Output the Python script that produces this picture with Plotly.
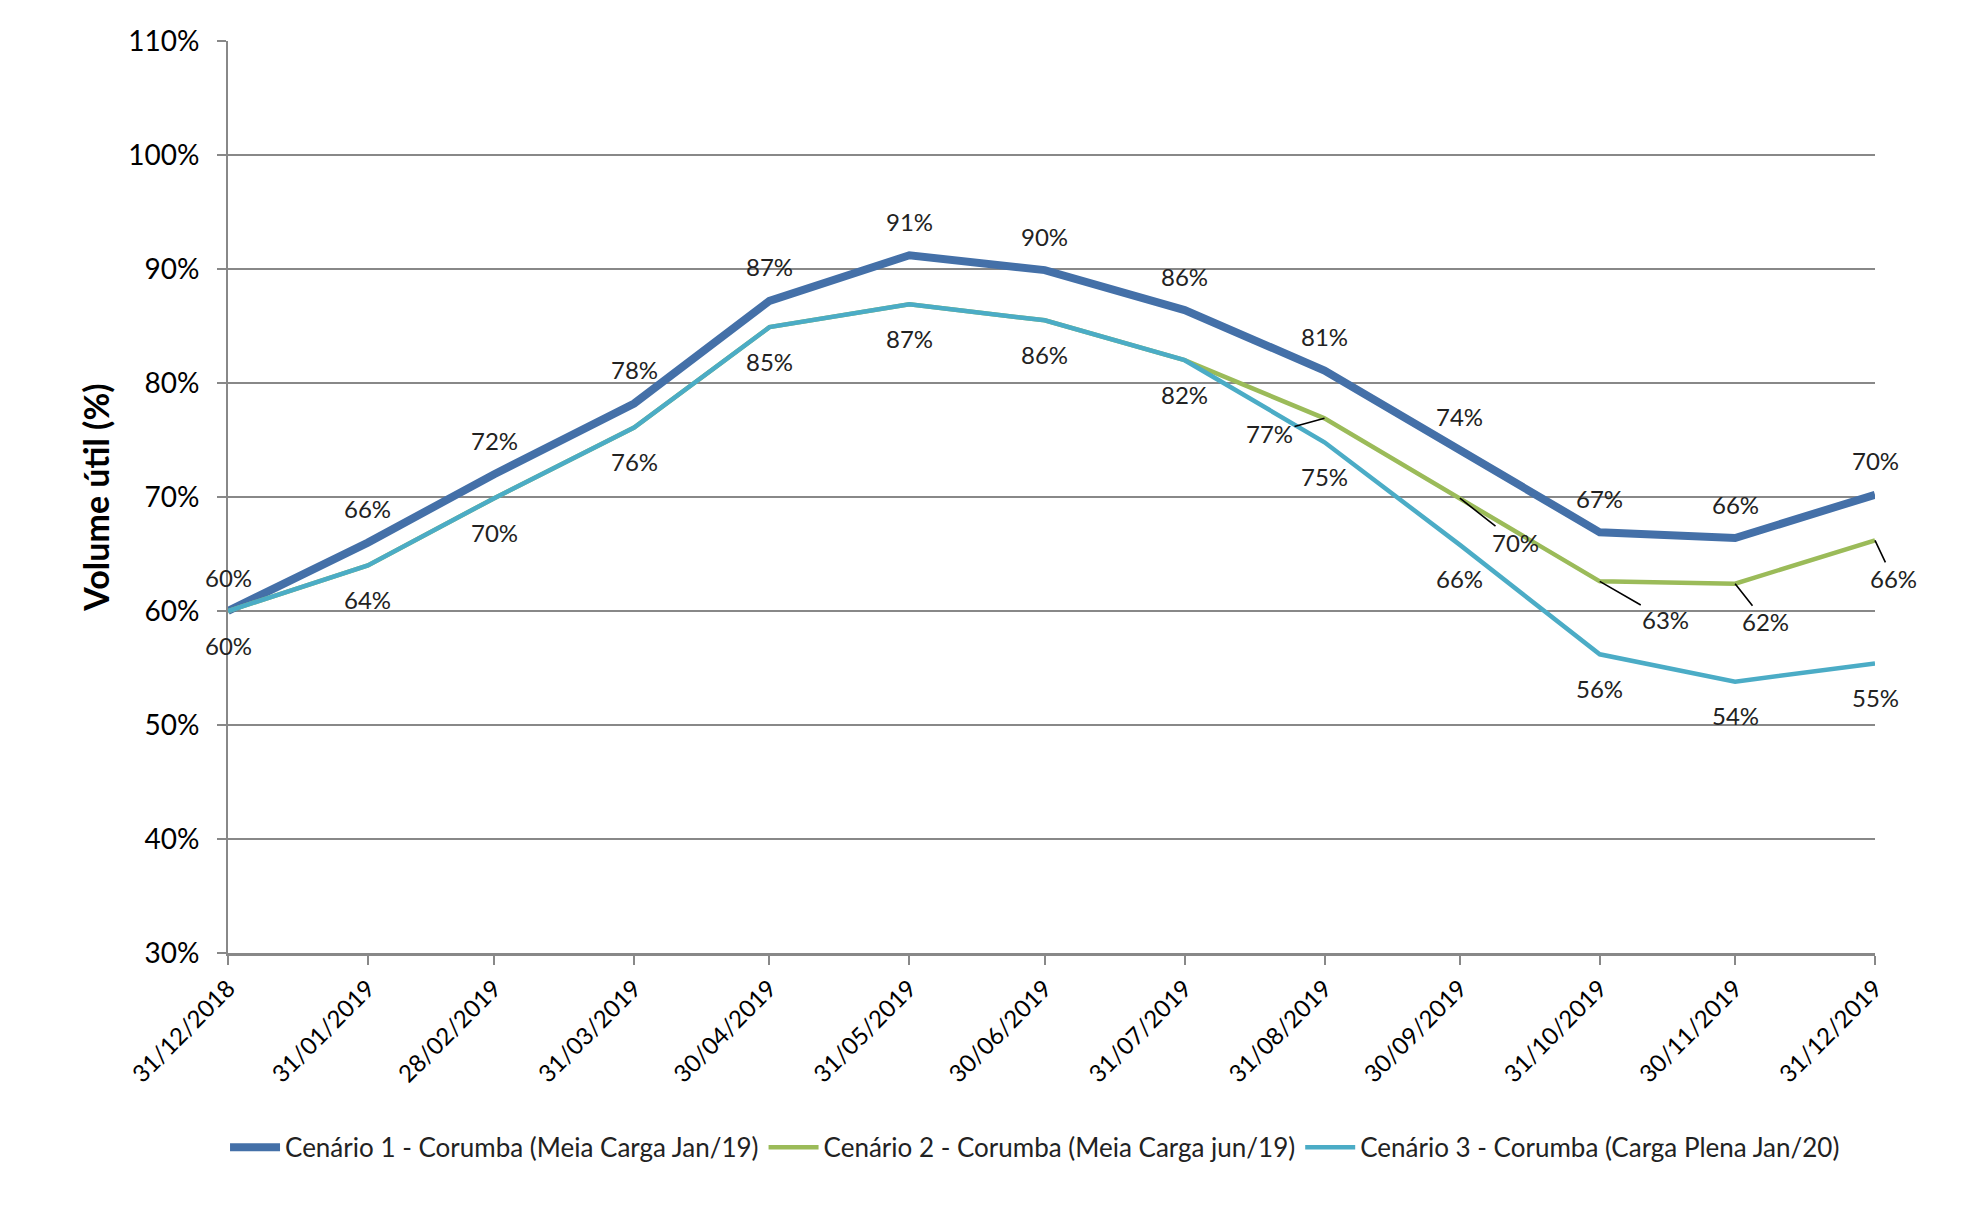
import plotly.graph_objects as go

dates = ["2018-12-31", "2019-01-31", "2019-02-28", "2019-03-31", "2019-04-30", "2019-05-31",
         "2019-06-30", "2019-07-31", "2019-08-31", "2019-09-30", "2019-10-31", "2019-11-30", "2019-12-31"]
tick_labels = ["31/12/2018", "31/01/2019", "28/02/2019", "31/03/2019", "30/04/2019", "31/05/2019",
               "30/06/2019", "31/07/2019", "31/08/2019", "30/09/2019", "31/10/2019", "30/11/2019", "31/12/2019"]
y_ticks = [30, 40, 50, 60, 70, 80, 90, 100, 110]
y_tick_labels = ["30%", "40%", "50%", "60%", "70%", "80%", "90%", "100%", "110%"]

cenario1 = [60.0, 66.0, 72.0, 78.2, 87.2, 91.2, 89.9, 86.4, 81.1, 74.1, 66.9, 66.4, 70.2]
cenario2 = [60.0, 64.0, 69.9, 76.1, 84.9, 86.9, 85.5, 82.0, 76.9, 69.9, 62.6, 62.4, 66.2]
cenario3 = [60.0, 64.0, 69.9, 76.1, 84.9, 86.9, 85.5, 82.0, 74.8, 65.8, 56.2, 53.8, 55.4]

names = ["Cenário 1 - Corumba (Meia Carga Jan/19)",
         "Cenário 2 - Corumba (Meia Carga jun/19)",
         "Cenário 3 - Corumba (Carga Plena Jan/20)"]
colors = ["#4470A8", "#9BBB59", "#4BACC6"]
widths = [8, 4.5, 4.5]

FONT = "Lato"
LBL = 24

fig = go.Figure()
for vals, nm, c, w in zip([cenario1, cenario2, cenario3], names, colors, widths):
    fig.add_trace(go.Scatter(x=dates, y=vals, name=nm, mode="lines",
                             line=dict(color=c, width=w)))

ann = []
for d, v in zip(dates, cenario1):
    ann.append(dict(x=d, y=v, text=f"{round(v)}%", showarrow=False, yshift=34,
                    font=dict(family=FONT, size=LBL, color="#222")))
for d, v in zip(dates, cenario3):
    ann.append(dict(x=d, y=v, text=f"{round(v)}%", showarrow=False, yshift=-34,
                    font=dict(family=FONT, size=LBL, color="#222")))
# Cenário 2 labels with leader lines (from 31/08 on)
offsets2 = {8: (-55, 15), 9: (56, 44), 10: (66, 38), 11: (30, 38), 12: (18, 38)}
for i, (ax, ay) in offsets2.items():
    ann.append(dict(x=dates[i], y=cenario2[i], text=f"{round(cenario2[i])}%", showarrow=True,
                    arrowhead=0, arrowwidth=1.6, arrowcolor="#000", ax=ax, ay=ay, standoff=0,
                    font=dict(family=FONT, size=LBL, color="#222")))

fig.update_layout(
    width=1972, height=1217,
    paper_bgcolor="white", plot_bgcolor="white",
    margin=dict(l=228, r=97, t=41, b=264),
    font=dict(family=FONT, color="#000"),
    annotations=ann,
    showlegend=True,
    legend=dict(orientation="h", x=0.49, xanchor="center", y=-0.213, yanchor="middle",
                font=dict(family=FONT, size=26, color="#222"), itemwidth=50,
                traceorder="normal"),
)
fig.update_xaxes(type="date", range=["2018-12-31", "2019-12-31"],
                 tickvals=dates, ticktext=tick_labels, tickangle=-45,
                 tickfont=dict(family=FONT, size=24, color="#000"),
                 showgrid=False, showline=True, linecolor="#888", linewidth=2.5,
                 ticks="outside", ticklen=9, tickcolor="#888", tickwidth=1.5, zeroline=False)
fig.update_yaxes(range=[30, 110], tickmode="array", tickvals=y_ticks, ticktext=y_tick_labels,
                 tickfont=dict(family=FONT, size=28, color="#000"),
                 ticklabelstandoff=12,
                 showgrid=True, gridcolor="#888", gridwidth=2,
                 showline=True, linecolor="#888", linewidth=2,
                 ticks="outside", ticklen=9, tickcolor="#888", tickwidth=2, zeroline=False,
                 title=dict(text="<b>Volume útil (%)</b>", font=dict(family=FONT, size=34, color="#000"),
                            standoff=8))

fig.write_html("out.html")
